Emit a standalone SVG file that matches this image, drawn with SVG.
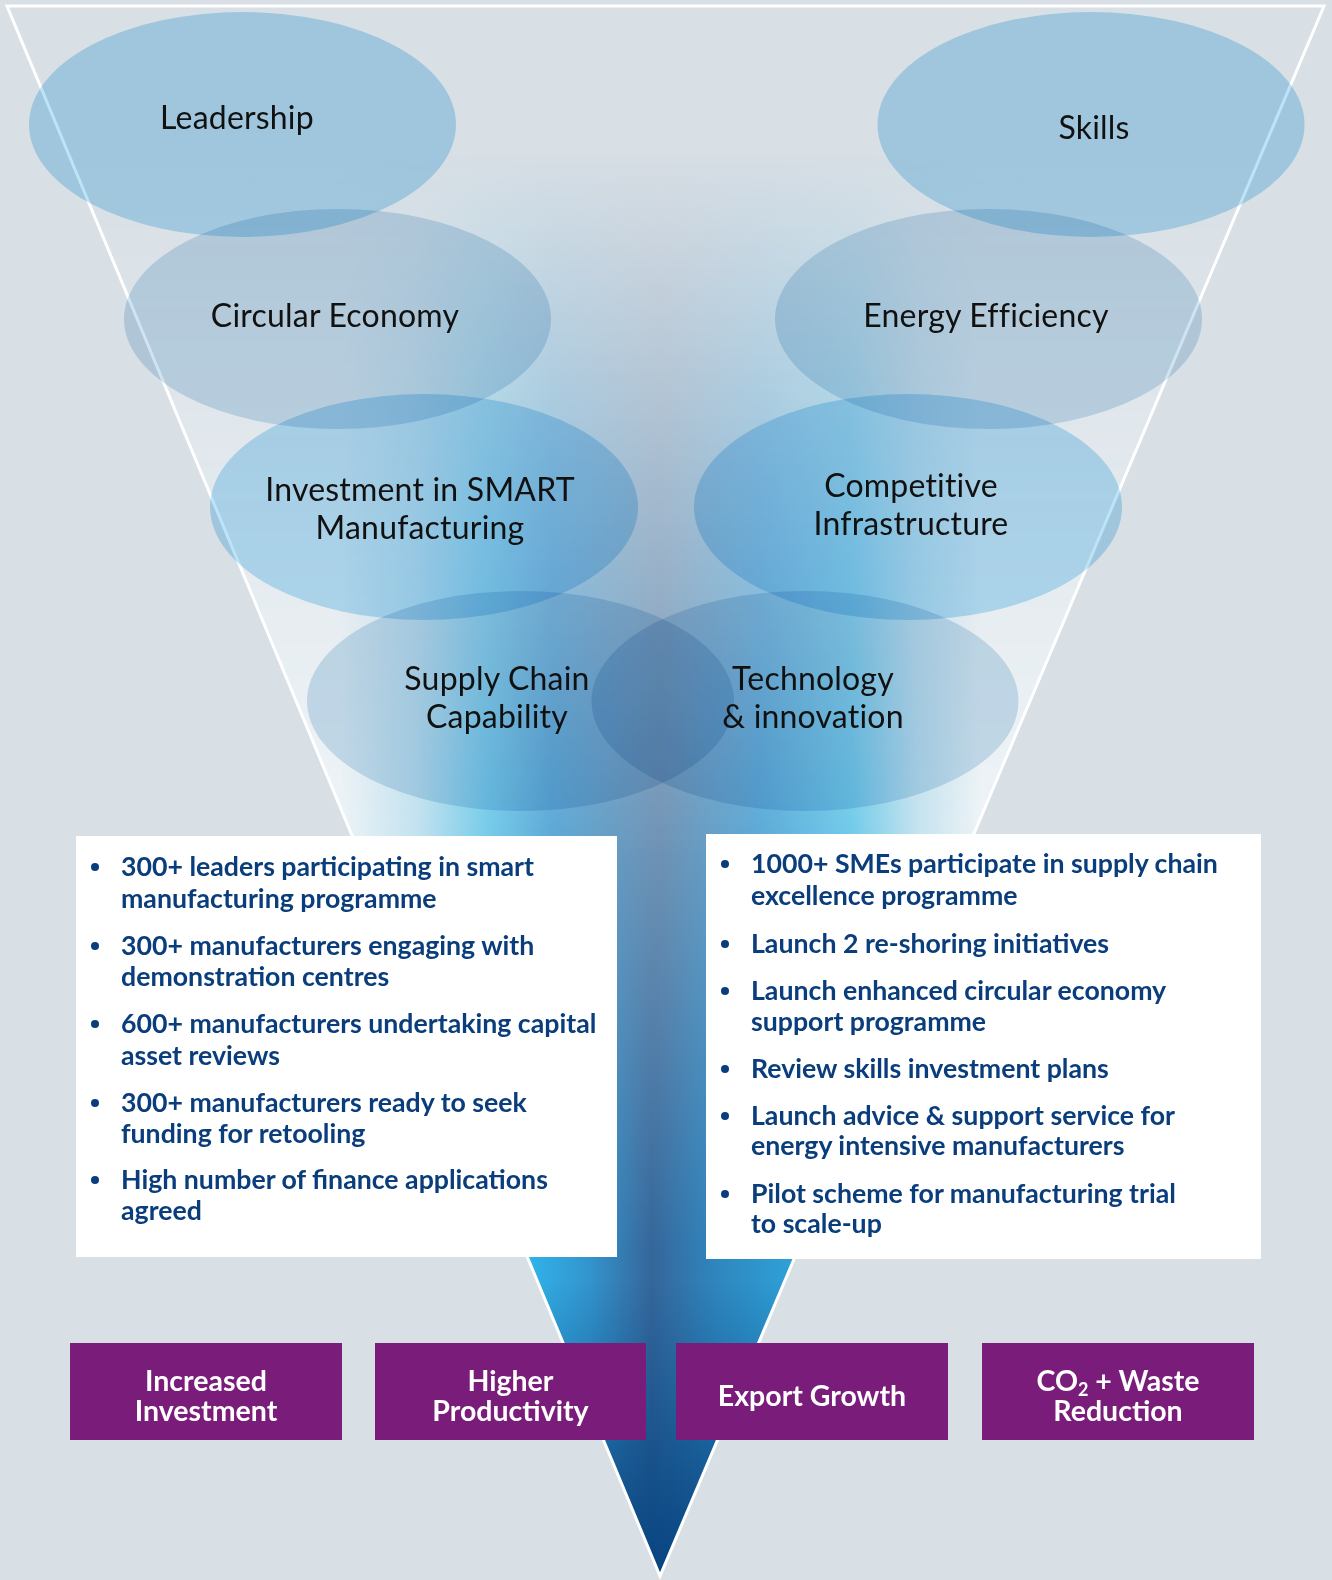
<svg xmlns="http://www.w3.org/2000/svg" width="1332" height="1580" viewBox="0 0 1332 1580">
  <defs>
    <style>
      .bubble-blue { fill: #bde3f7; mix-blend-mode: multiply; }
      .bubble-grey { fill: #d0e3f0; mix-blend-mode: multiply; }
      .bubble-label { font-family: Lato, "Liberation Sans", sans-serif; font-size: 32px; letter-spacing: 0.2px; fill: #111111; text-anchor: middle; }
      .panel { fill: #ffffff; }
      .item { font-family: Lato, "Liberation Sans", sans-serif; font-weight: 700; font-size: 26.7px; fill: #0a3d7c; }
      .dot { fill: #0a3d7c; }
      .outcome { fill: #7a1d7a; }
      .outcome-label { font-family: Lato, "Liberation Sans", sans-serif; font-weight: 700; font-size: 28.5px; fill: #ffffff; text-anchor: middle; }
      .outline { fill: none; stroke: #ffffff; stroke-width: 3; stroke-linejoin: miter; }
    </style>

    <clipPath id="funnelClip">
      <polygon points="7,6 1324,6 660,1576"/>
    </clipPath>

    <!-- upper band: pale edges, cyan stripes, slate centre -->
    <linearGradient id="bandUpper" gradientUnits="userSpaceOnUse" x1="340" y1="0" x2="980" y2="0">
      <stop offset="0" stop-color="#eef4f7"/>
      <stop offset="0.12" stop-color="#c2e2ef"/>
      <stop offset="0.23" stop-color="#74cbea"/>
      <stop offset="0.33" stop-color="#5aa8d6"/>
      <stop offset="0.5" stop-color="#6f92b4"/>
      <stop offset="0.66" stop-color="#5aaad8"/>
      <stop offset="0.8" stop-color="#6fcbea"/>
      <stop offset="0.9" stop-color="#c2e2ef"/>
      <stop offset="1" stop-color="#eef4f7"/>
    </linearGradient>
    <!-- lower band: saturated cyan edges, dark slate centre -->
    <linearGradient id="bandLower" gradientUnits="userSpaceOnUse" x1="520" y1="0" x2="800" y2="0">
      <stop offset="0" stop-color="#2fb7ed"/>
      <stop offset="0.25" stop-color="#3394cc"/>
      <stop offset="0.47" stop-color="#35669a"/>
      <stop offset="0.7" stop-color="#2f86be"/>
      <stop offset="1" stop-color="#2ea4da"/>
    </linearGradient>
    <!-- navy deepening toward the tip -->
    <linearGradient id="tipShade" gradientUnits="userSpaceOnUse" x1="0" y1="1280" x2="0" y2="1576">
      <stop offset="0" stop-color="#04427f" stop-opacity="0"/>
      <stop offset="1" stop-color="#04427f" stop-opacity="0.95"/>
    </linearGradient>

    <linearGradient id="fadeUpperG" gradientUnits="userSpaceOnUse" x1="0" y1="150" x2="0" y2="850">
      <stop offset="0" stop-color="#000000"/>
      <stop offset="1" stop-color="#ffffff"/>
    </linearGradient>
    <linearGradient id="fadeLowerG" gradientUnits="userSpaceOnUse" x1="0" y1="850" x2="0" y2="1250">
      <stop offset="0" stop-color="#000000"/>
      <stop offset="1" stop-color="#ffffff"/>
    </linearGradient>
    <mask id="fadeUpper" maskUnits="userSpaceOnUse" x="0" y="0" width="1332" height="1580">
      <rect width="1332" height="1580" fill="url(#fadeUpperG)"/>
    </mask>
    <mask id="fadeLower" maskUnits="userSpaceOnUse" x="0" y="0" width="1332" height="1580">
      <rect width="1332" height="1580" fill="url(#fadeLowerG)"/>
    </mask>
  </defs>

  <!-- page -->
  <rect width="1332" height="1580" fill="#d8dfe5"/>

  <!-- funnel body and outline -->
  <g id="funnel">
    <g clip-path="url(#funnelClip)">
      <rect x="0" y="0" width="1332" height="1580" fill="url(#bandUpper)" mask="url(#fadeUpper)"/>
      <rect x="0" y="0" width="1332" height="1580" fill="url(#bandLower)" mask="url(#fadeLower)"/>
      <rect x="0" y="1280" width="1332" height="300" fill="url(#tipShade)"/>
    </g>
    <polygon class="outline" points="7,6 1324,6 660,1576"/>
  </g>

  <!-- drivers -->
  <g id="node-leadership">
    <ellipse class="bubble-blue" cx="242.5" cy="124.5" rx="213.5" ry="112.5"/>
    <text class="bubble-label" x="237" y="129">Leadership</text>
  </g>
  <g id="node-skills">
    <ellipse class="bubble-blue" cx="1091" cy="124.5" rx="213.5" ry="112.5"/>
    <text class="bubble-label" x="1094" y="139">Skills</text>
  </g>
  <g id="node-circular-economy">
    <ellipse class="bubble-grey" cx="337.5" cy="319" rx="213.5" ry="110"/>
    <text class="bubble-label" x="335" y="327">Circular Economy</text>
  </g>
  <g id="node-energy-efficiency">
    <ellipse class="bubble-grey" cx="988.5" cy="319" rx="213.5" ry="110"/>
    <text class="bubble-label" x="986" y="327">Energy Efficiency</text>
  </g>
  <g id="node-smart-manufacturing">
    <ellipse class="bubble-blue" cx="424" cy="507" rx="214" ry="113"/>
    <text class="bubble-label" x="420" y="501">Investment in SMART</text>
    <text class="bubble-label" x="420" y="539">Manufacturing</text>
  </g>
  <g id="node-infrastructure">
    <ellipse class="bubble-blue" cx="908" cy="507" rx="214" ry="113"/>
    <text class="bubble-label" x="911" y="497">Competitive</text>
    <text class="bubble-label" x="911" y="535">Infrastructure</text>
  </g>
  <g id="node-supply-chain">
    <ellipse class="bubble-grey" cx="520.5" cy="701" rx="213.5" ry="110"/>
    <text class="bubble-label" x="497" y="690">Supply Chain</text>
    <text class="bubble-label" x="497" y="728">Capability</text>
  </g>
  <g id="node-technology">
    <ellipse class="bubble-grey" cx="805" cy="701" rx="213.5" ry="110"/>
    <text class="bubble-label" x="813" y="690">Technology</text>
    <text class="bubble-label" x="813" y="728">&amp; innovation</text>
  </g>

  <!-- actions, left panel -->
  <g id="panel-left">
    <rect class="panel" x="76" y="836" width="541" height="421"/>
    <circle class="dot" cx="95" cy="867" r="4"/>
    <text class="item" x="121" y="876">300+ leaders participating in smart</text>
    <text class="item" x="121" y="908">manufacturing programme</text>
    <circle class="dot" cx="95" cy="946" r="4"/>
    <text class="item" x="121" y="955">300+ manufacturers engaging with</text>
    <text class="item" x="121" y="986">demonstration centres</text>
    <circle class="dot" cx="95" cy="1024" r="4"/>
    <text class="item" x="121" y="1033">600+ manufacturers undertaking capital</text>
    <text class="item" x="121" y="1065">asset reviews</text>
    <circle class="dot" cx="95" cy="1103" r="4"/>
    <text class="item" x="121" y="1112">300+ manufacturers ready to seek</text>
    <text class="item" x="121" y="1143">funding for retooling</text>
    <circle class="dot" cx="95" cy="1180" r="4"/>
    <text class="item" x="121" y="1189">High number of finance applications</text>
    <text class="item" x="121" y="1220">agreed</text>
  </g>

  <!-- actions, right panel -->
  <g id="panel-right">
    <rect class="panel" x="706" y="834" width="555" height="425"/>
    <circle class="dot" cx="725" cy="864" r="4"/>
    <text class="item" x="751" y="873">1000+ SMEs participate in supply chain</text>
    <text class="item" x="751" y="905">excellence programme</text>
    <circle class="dot" cx="725" cy="944" r="4"/>
    <text class="item" x="751" y="953">Launch 2 re-shoring initiatives</text>
    <circle class="dot" cx="725" cy="991" r="4"/>
    <text class="item" x="751" y="1000">Launch enhanced circular economy</text>
    <text class="item" x="751" y="1031">support programme</text>
    <circle class="dot" cx="725" cy="1069" r="4"/>
    <text class="item" x="751" y="1078">Review skills investment plans</text>
    <circle class="dot" cx="725" cy="1116" r="4"/>
    <text class="item" x="751" y="1125">Launch advice &amp; support service for</text>
    <text class="item" x="751" y="1155">energy intensive manufacturers</text>
    <circle class="dot" cx="725" cy="1194" r="4"/>
    <text class="item" x="751" y="1203">Pilot scheme for manufacturing trial</text>
    <text class="item" x="751" y="1233">to scale-up</text>
  </g>

  <!-- outcomes -->
  <g id="outcome-investment">
    <rect class="outcome" x="70" y="1343" width="272" height="97"/>
    <text class="outcome-label" x="206" y="1391">Increased</text>
    <text class="outcome-label" x="206" y="1421">Investment</text>
  </g>
  <g id="outcome-productivity">
    <rect class="outcome" x="375" y="1343" width="271" height="97"/>
    <text class="outcome-label" x="510.5" y="1391">Higher</text>
    <text class="outcome-label" x="510.5" y="1421">Productivity</text>
  </g>
  <g id="outcome-export">
    <rect class="outcome" x="676" y="1343" width="272" height="97"/>
    <text class="outcome-label" x="812" y="1406">Export Growth</text>
  </g>
  <g id="outcome-co2">
    <rect class="outcome" x="982" y="1343" width="272" height="97"/>
    <text class="outcome-label" x="1118" y="1391">CO<tspan font-size="18" dy="5">2</tspan><tspan dy="-5"> + Waste</tspan></text>
    <text class="outcome-label" x="1118" y="1421">Reduction</text>
  </g>
</svg>
